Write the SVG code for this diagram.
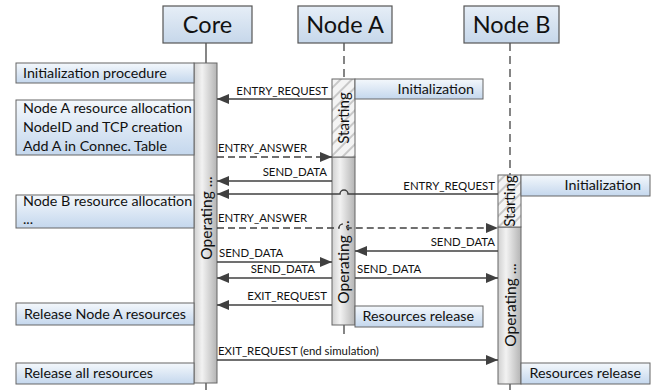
<svg xmlns="http://www.w3.org/2000/svg" width="659" height="390" viewBox="0 0 659 390">
<defs>
<linearGradient id="hdr" x1="0" y1="0" x2="0" y2="1"><stop offset="0" stop-color="#e6eef7"/><stop offset="1" stop-color="#c6d7ea"/></linearGradient>
<linearGradient id="note" x1="0" y1="0" x2="0" y2="1"><stop offset="0" stop-color="#f4f8fc"/><stop offset="1" stop-color="#c4d7ed"/></linearGradient>
<linearGradient id="bar" x1="0" y1="0" x2="1" y2="0"><stop offset="0" stop-color="#d0d0d0"/><stop offset="0.35" stop-color="#f2f2f2"/><stop offset="1" stop-color="#b4b4b4"/></linearGradient>
<pattern id="hatch" width="8" height="8" patternUnits="userSpaceOnUse" patternTransform="rotate(45)"><rect width="8" height="8" fill="#f4f4f4"/><rect width="2" height="8" fill="#c8c8c8"/></pattern>
<marker id="ah" markerUnits="userSpaceOnUse" markerWidth="13" markerHeight="11" refX="12" refY="5" orient="auto"><path d="M0,0 L12,5 L0,10 z" fill="#404040"/></marker>
</defs>
<style>
text{font-family:Lato,"Liberation Sans",sans-serif;fill:#111}
.hdr{fill:url(#hdr);stroke:#555;stroke-width:1.2}
.note{fill:url(#note);stroke:#666;stroke-width:1}
.bar{fill:url(#bar);stroke:#666;stroke-width:1}
.st{fill:url(#hatch);stroke:#666;stroke-width:1}
.ll{stroke:#444;stroke-width:1.3;fill:none}
.dl{stroke:#444;stroke-width:1.3;fill:none;stroke-dasharray:8 5}
.h{font-size:23.5px;text-anchor:middle}
.n{font-size:14.3px}
.m{font-size:11.4px}
.r{text-anchor:end}
.v{font-size:15px;text-anchor:middle}
.op{font-size:15.5px;text-anchor:middle}
.msg{stroke:#404040;stroke-width:1.5;fill:none;marker-end:url(#ah)}
.dsh{stroke-dasharray:7 4}
</style>
<g id="core">
<line class="ll" x1="206" y1="43" x2="206" y2="63"/>
<line class="ll" x1="206" y1="383" x2="206" y2="390"/>
<rect class="hdr" x="163" y="6" width="89" height="37"/>
<text class="h" x="207.5" y="33">Core</text>
<rect class="bar" x="194" y="63" width="23" height="320"/>
<text class="op" transform="translate(211.5,218) rotate(-90)">Operating ...</text>
</g>
<g id="nodeA">
<line class="dl" x1="344" y1="43" x2="344" y2="79"/>
<line class="ll" x1="344" y1="325" x2="344" y2="334"/>
<rect class="hdr" x="298" y="6" width="94" height="37"/>
<text class="h" x="345" y="33">Node A</text>
<rect class="bar" x="332" y="157" width="23" height="168"/>
<rect class="st" x="332" y="79" width="23" height="78"/>
<text class="v" transform="translate(348.5,118) rotate(-90)">Starting</text>
<text class="op" transform="translate(349,262) rotate(-90)">Operating ...</text>
</g>
<g id="nodeB">
<line class="dl" x1="510" y1="43" x2="510" y2="175"/>
<line class="ll" x1="510" y1="384" x2="510" y2="390"/>
<rect class="hdr" x="464" y="6" width="95" height="37"/>
<text class="h" x="511.5" y="33">Node B</text>
<rect class="bar" x="498" y="227" width="23" height="157"/>
<rect class="st" x="498" y="175" width="23" height="52"/>
<text class="v" transform="translate(515,201) rotate(-90)">Starting</text>
<text class="op" transform="translate(515.5,305) rotate(-90)">Operating ...</text>
</g>
<g id="note-init">
<rect class="note" x="16" y="63" width="178" height="20"/>
<text class="n" x="23" y="78">Initialization procedure</text>
</g>
<g id="note-a-alloc">
<rect class="note" x="16" y="100" width="178" height="55"/>
<text class="n" x="23" y="113">Node A resource allocation</text>
<text class="n" x="23" y="132">NodeID and TCP creation</text>
<text class="n" x="23" y="151">Add A in Connec. Table</text>
</g>
<g id="note-b-alloc">
<rect class="note" x="16" y="195" width="178" height="33"/>
<text class="n" x="23" y="206">Node B resource allocation</text>
<text class="n" x="23" y="224">...</text>
</g>
<g id="note-rel-a">
<rect class="note" x="16" y="303" width="178" height="22"/>
<text class="n" x="24" y="319">Release Node A resources</text>
</g>
<g id="note-rel-all">
<rect class="note" x="16" y="363" width="178" height="21"/>
<text class="n" x="24" y="378">Release all resources</text>
</g>
<g id="note-a-init">
<rect class="note" x="355" y="79" width="128" height="20"/>
<text class="n r" x="474" y="94">Initialization</text>
</g>
<g id="note-a-rel">
<rect class="note" x="355" y="306" width="128" height="21"/>
<text class="n r" x="474" y="321">Resources release</text>
</g>
<g id="note-b-init">
<rect class="note" x="521" y="175" width="129" height="21"/>
<text class="n r" x="641" y="190">Initialization</text>
</g>
<g id="note-b-rel">
<rect class="note" x="521" y="363" width="129" height="21"/>
<text class="n r" x="641" y="378">Resources release</text>
</g>
<g id="connectors">
<path class="msg" d="M332,99 H217"/>
<text class="m r" x="328" y="95">ENTRY_REQUEST</text>
<path class="msg dsh" d="M217,157 H332"/>
<text class="m" x="218" y="152">ENTRY_ANSWER</text>
<path class="msg" d="M332,181 H217"/>
<text class="m r" x="327" y="176">SEND_DATA</text>
<path class="msg" d="M498,194 H348 A4,4 0 0 0 340,194 H217"/>
<text class="m r" x="495" y="190">ENTRY_REQUEST</text>
<path class="msg dsh" d="M217,228 H339 A4,4 0 0 1 347,228 H498"/>
<text class="m" x="218" y="222">ENTRY_ANSWER</text>
<path class="msg" d="M498,251 H355"/>
<text class="m r" x="495" y="246">SEND_DATA</text>
<path class="msg" d="M217,262 H332"/>
<text class="m" x="219" y="257">SEND_DATA</text>
<path class="msg" d="M332,278 H217"/>
<text class="m r" x="315" y="273">SEND_DATA</text>
<path class="msg" d="M355,278 H498"/>
<text class="m" x="357" y="273">SEND_DATA</text>
<path class="msg" d="M332,305 H217"/>
<text class="m r" x="327" y="300">EXIT_REQUEST</text>
<path class="msg" d="M217,360 H498"/>
<text class="m" x="218" y="355">EXIT_REQUEST (end simulation)</text>
</g>
</svg>
